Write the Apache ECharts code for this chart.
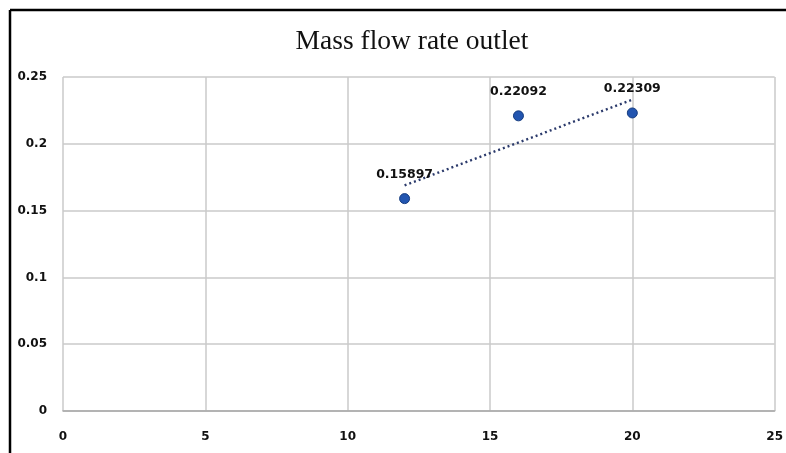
<!DOCTYPE html>
<html>
<head>
<meta charset="utf-8">
<script src="https://cdn.jsdelivr.net/npm/echarts@6/dist/echarts.min.js"></script>
<style>
html,body{margin:0;padding:0;background:#fff;}
#chart{width:786px;height:453px;}
</style>
</head>
<body>
<div id="chart"></div>
<script>
var titleText = 'Mass flow rate outlet';
var xValues = [12, 16, 20];
var yValues = [0.15897, 0.22092, 0.22309];
var dataLabels = ['0.15897', '0.22092', '0.22309'];

// Linear trendline fitted to the data (least squares)
var n = xValues.length;
var mx = xValues.reduce(function(a,b){return a+b;},0)/n;
var my = yValues.reduce(function(a,b){return a+b;},0)/n;
var sxy = 0, sxx = 0;
for (var i=0;i<n;i++){ sxy += (xValues[i]-mx)*(yValues[i]-my); sxx += (xValues[i]-mx)*(xValues[i]-mx); }
var slope = sxy/sxx, intercept = my - slope*mx;
var xMin = Math.min.apply(null,xValues), xMax = Math.max.apply(null,xValues);
var trend = [[xMin, intercept+slope*xMin],[xMax, intercept+slope*xMax]];

var chart = echarts.init(document.getElementById('chart'), null, {renderer:'canvas'});
var labelFont = {fontFamily:'DejaVu Sans', fontSize:12, fontWeight:'bold', color:'#111'};
chart.setOption({
  animation:false,
  backgroundColor:'#fff',
  title:{
    text:titleText, left:407, top:23, textAlign:'center',
    textStyle:{fontFamily:'Liberation Serif', fontSize:27.5, fontWeight:'normal', color:'#111'}
  },
  grid:{left:63, right:8, top:77, bottom:42},
  xAxis:{
    type:'value', min:0, max:25, interval:5,
    axisLine:{show:true, onZero:false, lineStyle:{color:'#a8a8a8', width:1.5}},
    axisTick:{show:false},
    splitLine:{show:true, lineStyle:{color:'#cacaca', width:1.5}},
    axisLabel:Object.assign({margin:20}, labelFont)
  },
  yAxis:{
    type:'value', min:0, max:0.25, interval:0.05,
    axisLine:{show:false},
    axisTick:{show:false},
    splitLine:{show:true, lineStyle:{color:'#cacaca', width:1.5}},
    axisLabel:Object.assign({margin:16, formatter:function(v){return String(+v.toFixed(2));}}, labelFont)
  },
  series:[
    {
      type:'line', data:trend, symbol:'none', silent:true,
      lineStyle:{color:'#2b3a6b', width:2.4, type:[2,3]}, z:3
    },
    {
      type:'scatter', data:xValues.map(function(x,i){return [x,yValues[i]];}),
      symbol:'circle', symbolSize:10,
      itemStyle:{color:'#2255b0', borderColor:'#173d80', borderWidth:1, opacity:1},
      label:{show:true, position:'top', distance:12,
        formatter:function(p){return dataLabels[p.dataIndex];},
        fontFamily:'DejaVu Sans', fontSize:12.5, fontWeight:'bold', color:'#111'},
      emphasis:{disabled:true},
      z:4
    }
  ],
  graphic:[
    {type:'line', shape:{x1:10, y1:10, x2:786, y2:10}, style:{stroke:'#000', lineWidth:2.5}, z:100},
    {type:'line', shape:{x1:10, y1:10, x2:10, y2:453}, style:{stroke:'#000', lineWidth:2.5}, z:100}
  ]
});
</script>
</body>
</html>
